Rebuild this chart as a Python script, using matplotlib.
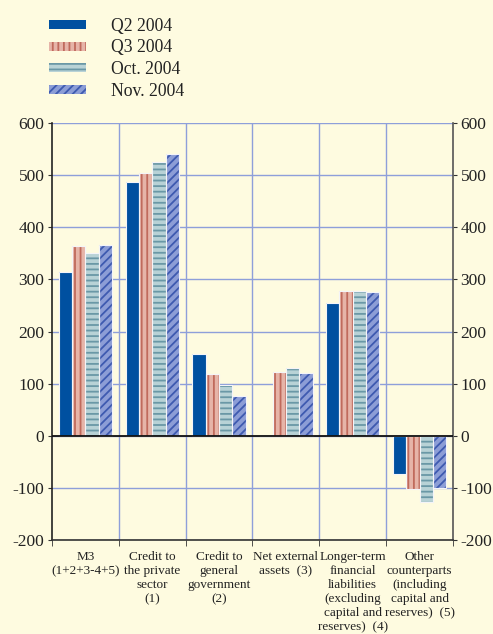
import matplotlib
matplotlib.use("Agg")
import matplotlib.pyplot as plt
import numpy as np

categories = ["M3\n(1+2+3-4+5)", "Credit to\nthe private\nsector\n(1)",
              "Credit to\ngeneral\ngovernment\n(2)", "Net external\nassets  (3)",
              "Longer-term\nfinancial\nliabilities\n(excluding\ncapital and\nreserves)  (4)",
              "Other\ncounterparts\n(including\ncapital and\nreserves)  (5)"]
series_names = ["Q2 2004", "Q3 2004", "Oct. 2004", "Nov. 2004"]
q2 = [314, 486, 156, 0, 255, -73]
q3 = [364, 505, 119, 123, 278, -103]
octo = [351, 526, 98, 130, 277, -128]
nov = [365, 541, 76, 120, 275, -101]
yticks = [-200, -100, 0, 100, 200, 300, 400, 500, 600]

plt.rcParams['font.family'] = ['Liberation Serif', 'DejaVu Serif']
plt.rcParams['hatch.linewidth'] = 1.3

bg = '#FEFBE0'
grid_c = '#8E9FDA'
fig = plt.figure(figsize=(4.93, 6.34), dpi=100, facecolor=bg)
ax = fig.add_axes([52/493, 1-540/634, 401/493, 417/634])
ax.set_facecolor(bg)

styles = [
    dict(face='#0050A0', hatch=None, hcol='#0050A0'),
    dict(face='#E6B4A8', hatch='|||', hcol='#C06A5C'),
    dict(face='#B8D2D6', hatch='---', hcol='#6A98A6'),
    dict(face='#8C9DD6', hatch='////', hcol='#3E5AB0'),
]
data = [q2, q3, octo, nov]
n = len(categories)
x = np.arange(n)
w = 0.2
handles = []
for i, (vals, st) in enumerate(zip(data, styles)):
    pos = x - 0.3 + i * w
    b = ax.bar(pos, vals, width=w, color=st['face'], edgecolor=st['hcol'],
               hatch=st['hatch'], linewidth=0, zorder=3, label=series_names[i])
    ax.bar(pos, vals, width=w, facecolor='none', edgecolor='#F4F4F8',
           linewidth=0.8, zorder=4)
    handles.append(b)

ax.set_xlim(-0.5, n - 0.5)
ax.set_ylim(-200, 600)
ax.set_yticks(yticks)
ax.set_yticklabels([str(v) for v in yticks], fontsize=12.5)
ax.tick_params(axis='y', length=3, color='#333333', pad=2.5, labelcolor='#222222')
ax.tick_params(axis='y', which='both', right=True, labelright=True)

for yv in yticks:
    ax.axhline(yv, color=grid_c, lw=1.0, zorder=1)
for xb in np.arange(0.5, n - 0.5, 1):
    ax.axvline(xb, color=grid_c, lw=1.0, zorder=1)
ax.axhline(0, color='#111111', lw=1.3, zorder=5)

ax.set_xticks(x)
ax.set_xticklabels(categories, fontsize=9.5, linespacing=1.22, va='top')
ax.tick_params(axis='x', which='major', length=0, pad=8, labelcolor='#222222')
ax.set_xticks(np.arange(-0.5, n, 1), minor=True)
ax.tick_params(axis='x', which='minor', length=4, direction='out', color='#333333')

for s in ['top']:
    ax.spines[s].set_visible(False)
ax.spines['left'].set_color('#222222')
ax.spines['right'].set_color('#555555')
ax.spines['bottom'].set_color('#333333')
ax.spines['left'].set_linewidth(1.2)
ax.spines['right'].set_linewidth(1.2)
ax.spines['bottom'].set_linewidth(1.2)

leg = fig.legend(handles=handles, loc='upper left', bbox_to_anchor=(33/493, 1-2/634),
                 frameon=False, fontsize=12.7, handlelength=2.1, handleheight=0.4,
                 handletextpad=1.45, labelspacing=0.26)
for t in leg.get_texts():
    t.set_color('#222222')

fig.savefig('out.png', dpi=100, facecolor=bg)
